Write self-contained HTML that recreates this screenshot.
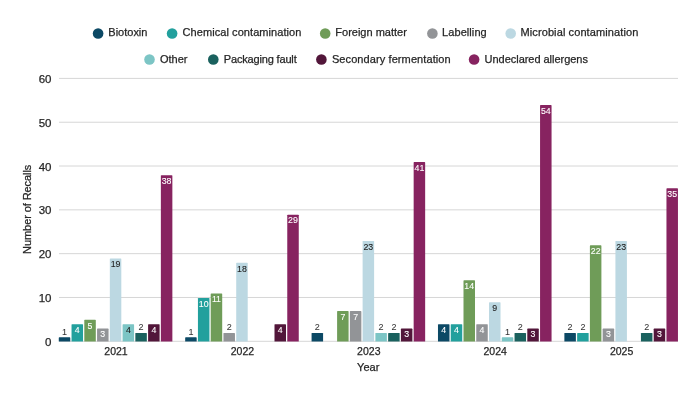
<!DOCTYPE html><html><head><meta charset="utf-8"><style>html,body{margin:0;padding:0;background:#fff;width:700px;height:393px;overflow:hidden}svg{display:block}text{font-family:"Liberation Sans", sans-serif}.t{stroke:#262626;stroke-width:0.25px}</style></head><body>
<div style="will-change:transform;background:#fff;width:700px;height:393px"><svg width="700" height="393" viewBox="0 0 700 393">
<rect width="700" height="393" fill="#fff"/>
<line x1="59" x2="678" y1="341.3" y2="341.3" stroke="#d6d6d6" stroke-width="1"/>
<text class="t" x="51.5" y="345.90" font-size="11.5" fill="#262626" text-anchor="end">0</text>
<line x1="59" x2="678" y1="297.48" y2="297.48" stroke="#d6d6d6" stroke-width="1"/>
<text class="t" x="51.5" y="302.08" font-size="11.5" fill="#262626" text-anchor="end">10</text>
<line x1="59" x2="678" y1="253.67" y2="253.67" stroke="#d6d6d6" stroke-width="1"/>
<text class="t" x="51.5" y="258.27" font-size="11.5" fill="#262626" text-anchor="end">20</text>
<line x1="59" x2="678" y1="209.85" y2="209.85" stroke="#d6d6d6" stroke-width="1"/>
<text class="t" x="51.5" y="214.45" font-size="11.5" fill="#262626" text-anchor="end">30</text>
<line x1="59" x2="678" y1="166.03" y2="166.03" stroke="#d6d6d6" stroke-width="1"/>
<text class="t" x="51.5" y="170.63" font-size="11.5" fill="#262626" text-anchor="end">40</text>
<line x1="59" x2="678" y1="122.22" y2="122.22" stroke="#d6d6d6" stroke-width="1"/>
<text class="t" x="51.5" y="126.82" font-size="11.5" fill="#262626" text-anchor="end">50</text>
<line x1="59" x2="678" y1="78.4" y2="78.4" stroke="#d6d6d6" stroke-width="1"/>
<text class="t" x="51.5" y="83.00" font-size="11.5" fill="#262626" text-anchor="end">60</text>
<text class="t" transform="translate(31,209.3) rotate(-90)" font-size="11" fill="#262626" text-anchor="middle" textLength="89.2" lengthAdjust="spacing">Number of Recalls</text>
<text class="t" x="368.2" y="371" font-size="11" fill="#262626" text-anchor="middle">Year</text>
<text class="t" x="116.00" y="354.8" font-size="10.5" fill="#262626" text-anchor="middle">2021</text>
<path d="M58.78,341.5 L58.78,337.92 Q58.78,337.32 59.38,337.32 L69.68,337.32 Q70.28,337.32 70.28,337.92 L70.28,341.5 Z" fill="#0c4965"/>
<text x="64.53" y="334.72" font-size="9" fill="#333" stroke="#333" stroke-width="0.05" text-anchor="middle">1</text>
<path d="M71.54,341.5 L71.54,324.77 Q71.54,324.17 72.14,324.17 L82.44,324.17 Q83.04,324.17 83.04,324.77 L83.04,341.5 Z" fill="#22a09d"/>
<text x="77.29" y="332.97" font-size="8.8" fill="#fff" stroke="#fff" stroke-width="0.1" text-anchor="middle">4</text>
<path d="M84.30,341.5 L84.30,320.39 Q84.30,319.79 84.90,319.79 L95.20,319.79 Q95.80,319.79 95.80,320.39 L95.80,341.5 Z" fill="#6f9c58"/>
<text x="90.05" y="328.59" font-size="8.8" fill="#fff" stroke="#fff" stroke-width="0.1" text-anchor="middle">5</text>
<path d="M97.06,341.5 L97.06,329.16 Q97.06,328.56 97.66,328.56 L107.96,328.56 Q108.56,328.56 108.56,329.16 L108.56,341.5 Z" fill="#929497"/>
<text x="102.81" y="337.36" font-size="8.8" fill="#fff" stroke="#fff" stroke-width="0.1" text-anchor="middle">3</text>
<path d="M109.82,341.5 L109.82,259.05 Q109.82,258.45 110.42,258.45 L120.72,258.45 Q121.32,258.45 121.32,259.05 L121.32,341.5 Z" fill="#bcd8e2"/>
<text x="115.57" y="267.25" font-size="8.8" fill="#222" stroke="#222" stroke-width="0.1" text-anchor="middle">19</text>
<path d="M122.58,341.5 L122.58,324.77 Q122.58,324.17 123.18,324.17 L133.48,324.17 Q134.08,324.17 134.08,324.77 L134.08,341.5 Z" fill="#7cc5c5"/>
<text x="128.33" y="332.97" font-size="8.8" fill="#222" stroke="#222" stroke-width="0.1" text-anchor="middle">4</text>
<path d="M135.34,341.5 L135.34,333.54 Q135.34,332.94 135.94,332.94 L146.24,332.94 Q146.84,332.94 146.84,333.54 L146.84,341.5 Z" fill="#1a615e"/>
<text x="141.09" y="330.34" font-size="9" fill="#333" stroke="#333" stroke-width="0.05" text-anchor="middle">2</text>
<path d="M148.10,341.5 L148.10,324.77 Q148.10,324.17 148.70,324.17 L159.00,324.17 Q159.60,324.17 159.60,324.77 L159.60,341.5 Z" fill="#52163a"/>
<text x="153.85" y="332.97" font-size="8.8" fill="#fff" stroke="#fff" stroke-width="0.1" text-anchor="middle">4</text>
<path d="M160.86,341.5 L160.86,175.80 Q160.86,175.20 161.46,175.20 L171.76,175.20 Q172.36,175.20 172.36,175.80 L172.36,341.5 Z" fill="#872360"/>
<text x="166.61" y="184.00" font-size="8.8" fill="#fff" stroke="#fff" stroke-width="0.1" text-anchor="middle">38</text>
<text class="t" x="242.40" y="354.8" font-size="10.5" fill="#262626" text-anchor="middle">2022</text>
<path d="M185.18,341.5 L185.18,337.92 Q185.18,337.32 185.78,337.32 L196.08,337.32 Q196.68,337.32 196.68,337.92 L196.68,341.5 Z" fill="#0c4965"/>
<text x="190.93" y="334.72" font-size="9" fill="#333" stroke="#333" stroke-width="0.05" text-anchor="middle">1</text>
<path d="M197.94,341.5 L197.94,298.48 Q197.94,297.88 198.54,297.88 L208.84,297.88 Q209.44,297.88 209.44,298.48 L209.44,341.5 Z" fill="#22a09d"/>
<text x="203.69" y="306.68" font-size="8.8" fill="#fff" stroke="#fff" stroke-width="0.1" text-anchor="middle">10</text>
<path d="M210.70,341.5 L210.70,294.10 Q210.70,293.50 211.30,293.50 L221.60,293.50 Q222.20,293.50 222.20,294.10 L222.20,341.5 Z" fill="#6f9c58"/>
<text x="216.45" y="302.30" font-size="8.8" fill="#fff" stroke="#fff" stroke-width="0.1" text-anchor="middle">11</text>
<path d="M223.46,341.5 L223.46,333.54 Q223.46,332.94 224.06,332.94 L234.36,332.94 Q234.96,332.94 234.96,333.54 L234.96,341.5 Z" fill="#929497"/>
<text x="229.21" y="330.34" font-size="9" fill="#333" stroke="#333" stroke-width="0.05" text-anchor="middle">2</text>
<path d="M236.22,341.5 L236.22,263.43 Q236.22,262.83 236.82,262.83 L247.12,262.83 Q247.72,262.83 247.72,263.43 L247.72,341.5 Z" fill="#bcd8e2"/>
<text x="241.97" y="271.63" font-size="8.8" fill="#222" stroke="#222" stroke-width="0.1" text-anchor="middle">18</text>
<path d="M274.50,341.5 L274.50,324.77 Q274.50,324.17 275.10,324.17 L285.40,324.17 Q286.00,324.17 286.00,324.77 L286.00,341.5 Z" fill="#52163a"/>
<text x="280.25" y="332.97" font-size="8.8" fill="#fff" stroke="#fff" stroke-width="0.1" text-anchor="middle">4</text>
<path d="M287.26,341.5 L287.26,215.23 Q287.26,214.63 287.86,214.63 L298.16,214.63 Q298.76,214.63 298.76,215.23 L298.76,341.5 Z" fill="#872360"/>
<text x="293.01" y="223.43" font-size="8.8" fill="#fff" stroke="#fff" stroke-width="0.1" text-anchor="middle">29</text>
<text class="t" x="368.80" y="354.8" font-size="10.5" fill="#262626" text-anchor="middle">2023</text>
<path d="M311.58,341.5 L311.58,333.54 Q311.58,332.94 312.18,332.94 L322.48,332.94 Q323.08,332.94 323.08,333.54 L323.08,341.5 Z" fill="#0c4965"/>
<text x="317.33" y="330.34" font-size="9" fill="#333" stroke="#333" stroke-width="0.05" text-anchor="middle">2</text>
<path d="M337.10,341.5 L337.10,311.63 Q337.10,311.03 337.70,311.03 L348.00,311.03 Q348.60,311.03 348.60,311.63 L348.60,341.5 Z" fill="#6f9c58"/>
<text x="342.85" y="319.83" font-size="8.8" fill="#fff" stroke="#fff" stroke-width="0.1" text-anchor="middle">7</text>
<path d="M349.86,341.5 L349.86,311.63 Q349.86,311.03 350.46,311.03 L360.76,311.03 Q361.36,311.03 361.36,311.63 L361.36,341.5 Z" fill="#929497"/>
<text x="355.61" y="319.83" font-size="8.8" fill="#fff" stroke="#fff" stroke-width="0.1" text-anchor="middle">7</text>
<path d="M362.62,341.5 L362.62,241.52 Q362.62,240.92 363.22,240.92 L373.52,240.92 Q374.12,240.92 374.12,241.52 L374.12,341.5 Z" fill="#bcd8e2"/>
<text x="368.37" y="249.72" font-size="8.8" fill="#222" stroke="#222" stroke-width="0.1" text-anchor="middle">23</text>
<path d="M375.38,341.5 L375.38,333.54 Q375.38,332.94 375.98,332.94 L386.28,332.94 Q386.88,332.94 386.88,333.54 L386.88,341.5 Z" fill="#7cc5c5"/>
<text x="381.13" y="330.34" font-size="9" fill="#333" stroke="#333" stroke-width="0.05" text-anchor="middle">2</text>
<path d="M388.14,341.5 L388.14,333.54 Q388.14,332.94 388.74,332.94 L399.04,332.94 Q399.64,332.94 399.64,333.54 L399.64,341.5 Z" fill="#1a615e"/>
<text x="393.89" y="330.34" font-size="9" fill="#333" stroke="#333" stroke-width="0.05" text-anchor="middle">2</text>
<path d="M400.90,341.5 L400.90,329.16 Q400.90,328.56 401.50,328.56 L411.80,328.56 Q412.40,328.56 412.40,329.16 L412.40,341.5 Z" fill="#52163a"/>
<text x="406.65" y="337.36" font-size="8.8" fill="#fff" stroke="#fff" stroke-width="0.1" text-anchor="middle">3</text>
<path d="M413.66,341.5 L413.66,162.65 Q413.66,162.05 414.26,162.05 L424.56,162.05 Q425.16,162.05 425.16,162.65 L425.16,341.5 Z" fill="#872360"/>
<text x="419.41" y="170.85" font-size="8.8" fill="#fff" stroke="#fff" stroke-width="0.1" text-anchor="middle">41</text>
<text class="t" x="495.20" y="354.8" font-size="10.5" fill="#262626" text-anchor="middle">2024</text>
<path d="M437.98,341.5 L437.98,324.77 Q437.98,324.17 438.58,324.17 L448.88,324.17 Q449.48,324.17 449.48,324.77 L449.48,341.5 Z" fill="#0c4965"/>
<text x="443.73" y="332.97" font-size="8.8" fill="#fff" stroke="#fff" stroke-width="0.1" text-anchor="middle">4</text>
<path d="M450.74,341.5 L450.74,324.77 Q450.74,324.17 451.34,324.17 L461.64,324.17 Q462.24,324.17 462.24,324.77 L462.24,341.5 Z" fill="#22a09d"/>
<text x="456.49" y="332.97" font-size="8.8" fill="#fff" stroke="#fff" stroke-width="0.1" text-anchor="middle">4</text>
<path d="M463.50,341.5 L463.50,280.96 Q463.50,280.36 464.10,280.36 L474.40,280.36 Q475.00,280.36 475.00,280.96 L475.00,341.5 Z" fill="#6f9c58"/>
<text x="469.25" y="289.16" font-size="8.8" fill="#fff" stroke="#fff" stroke-width="0.1" text-anchor="middle">14</text>
<path d="M476.26,341.5 L476.26,324.77 Q476.26,324.17 476.86,324.17 L487.16,324.17 Q487.76,324.17 487.76,324.77 L487.76,341.5 Z" fill="#929497"/>
<text x="482.01" y="332.97" font-size="8.8" fill="#fff" stroke="#fff" stroke-width="0.1" text-anchor="middle">4</text>
<path d="M489.02,341.5 L489.02,302.87 Q489.02,302.26 489.62,302.26 L499.92,302.26 Q500.52,302.26 500.52,302.87 L500.52,341.5 Z" fill="#bcd8e2"/>
<text x="494.77" y="311.06" font-size="8.8" fill="#222" stroke="#222" stroke-width="0.1" text-anchor="middle">9</text>
<path d="M501.78,341.5 L501.78,337.92 Q501.78,337.32 502.38,337.32 L512.68,337.32 Q513.28,337.32 513.28,337.92 L513.28,341.5 Z" fill="#7cc5c5"/>
<text x="507.53" y="334.72" font-size="9" fill="#333" stroke="#333" stroke-width="0.05" text-anchor="middle">1</text>
<path d="M514.54,341.5 L514.54,333.54 Q514.54,332.94 515.14,332.94 L525.44,332.94 Q526.04,332.94 526.04,333.54 L526.04,341.5 Z" fill="#1a615e"/>
<text x="520.29" y="330.34" font-size="9" fill="#333" stroke="#333" stroke-width="0.05" text-anchor="middle">2</text>
<path d="M527.30,341.5 L527.30,329.16 Q527.30,328.56 527.90,328.56 L538.20,328.56 Q538.80,328.56 538.80,329.16 L538.80,341.5 Z" fill="#52163a"/>
<text x="533.05" y="337.36" font-size="8.8" fill="#fff" stroke="#fff" stroke-width="0.1" text-anchor="middle">3</text>
<path d="M540.06,341.5 L540.06,105.69 Q540.06,105.09 540.66,105.09 L550.96,105.09 Q551.56,105.09 551.56,105.69 L551.56,341.5 Z" fill="#872360"/>
<text x="545.81" y="113.89" font-size="8.8" fill="#fff" stroke="#fff" stroke-width="0.1" text-anchor="middle">54</text>
<text class="t" x="621.60" y="354.8" font-size="10.5" fill="#262626" text-anchor="middle">2025</text>
<path d="M564.38,341.5 L564.38,333.54 Q564.38,332.94 564.98,332.94 L575.28,332.94 Q575.88,332.94 575.88,333.54 L575.88,341.5 Z" fill="#0c4965"/>
<text x="570.13" y="330.34" font-size="9" fill="#333" stroke="#333" stroke-width="0.05" text-anchor="middle">2</text>
<path d="M577.14,341.5 L577.14,333.54 Q577.14,332.94 577.74,332.94 L588.04,332.94 Q588.64,332.94 588.64,333.54 L588.64,341.5 Z" fill="#22a09d"/>
<text x="582.89" y="330.34" font-size="9" fill="#333" stroke="#333" stroke-width="0.05" text-anchor="middle">2</text>
<path d="M589.90,341.5 L589.90,245.90 Q589.90,245.30 590.50,245.30 L600.80,245.30 Q601.40,245.30 601.40,245.90 L601.40,341.5 Z" fill="#6f9c58"/>
<text x="595.65" y="254.10" font-size="8.8" fill="#fff" stroke="#fff" stroke-width="0.1" text-anchor="middle">22</text>
<path d="M602.66,341.5 L602.66,329.16 Q602.66,328.56 603.26,328.56 L613.56,328.56 Q614.16,328.56 614.16,329.16 L614.16,341.5 Z" fill="#929497"/>
<text x="608.41" y="337.36" font-size="8.8" fill="#fff" stroke="#fff" stroke-width="0.1" text-anchor="middle">3</text>
<path d="M615.42,341.5 L615.42,241.52 Q615.42,240.92 616.02,240.92 L626.32,240.92 Q626.92,240.92 626.92,241.52 L626.92,341.5 Z" fill="#bcd8e2"/>
<text x="621.17" y="249.72" font-size="8.8" fill="#222" stroke="#222" stroke-width="0.1" text-anchor="middle">23</text>
<path d="M640.94,341.5 L640.94,333.54 Q640.94,332.94 641.54,332.94 L651.84,332.94 Q652.44,332.94 652.44,333.54 L652.44,341.5 Z" fill="#1a615e"/>
<text x="646.69" y="330.34" font-size="9" fill="#333" stroke="#333" stroke-width="0.05" text-anchor="middle">2</text>
<path d="M653.70,341.5 L653.70,329.16 Q653.70,328.56 654.30,328.56 L664.60,328.56 Q665.20,328.56 665.20,329.16 L665.20,341.5 Z" fill="#52163a"/>
<text x="659.45" y="337.36" font-size="8.8" fill="#fff" stroke="#fff" stroke-width="0.1" text-anchor="middle">3</text>
<path d="M666.46,341.5 L666.46,188.94 Q666.46,188.34 667.06,188.34 L677.36,188.34 Q677.96,188.34 677.96,188.94 L677.96,341.5 Z" fill="#872360"/>
<text x="672.21" y="197.14" font-size="8.8" fill="#fff" stroke="#fff" stroke-width="0.1" text-anchor="middle">35</text>
<circle cx="98.1" cy="33.5" r="5.3" fill="#0c4965"/>
<text class="t" x="108.30" y="36.3" font-size="11" fill="#262626" textLength="39.14" lengthAdjust="spacing">Biotoxin</text>
<circle cx="172.1" cy="33.5" r="5.3" fill="#22a09d"/>
<text class="t" x="182.60" y="36.3" font-size="11" fill="#262626" textLength="118.8" lengthAdjust="spacing">Chemical contamination</text>
<circle cx="325.2" cy="33.5" r="5.3" fill="#6f9c58"/>
<text class="t" x="335.30" y="36.3" font-size="11" fill="#262626" textLength="71.53" lengthAdjust="spacing">Foreign matter</text>
<circle cx="432.4" cy="33.5" r="5.3" fill="#929497"/>
<text class="t" x="442.10" y="36.3" font-size="11" fill="#262626" textLength="44.6" lengthAdjust="spacing">Labelling</text>
<circle cx="510.7" cy="33.5" r="5.3" fill="#bcd8e2"/>
<text class="t" x="520.50" y="36.3" font-size="11" fill="#262626" textLength="117.8" lengthAdjust="spacing">Microbial contamination</text>
<circle cx="149.5" cy="59.5" r="5.3" fill="#7cc5c5"/>
<text class="t" x="160.00" y="62.8" font-size="11" fill="#262626" textLength="27.5" lengthAdjust="spacing">Other</text>
<circle cx="213.3" cy="59.5" r="5.3" fill="#1a615e"/>
<text class="t" x="223.80" y="62.8" font-size="11" fill="#262626" textLength="72.9" lengthAdjust="spacing">Packaging fault</text>
<circle cx="321.4" cy="59.5" r="5.3" fill="#52163a"/>
<text class="t" x="331.90" y="62.8" font-size="11" fill="#262626" textLength="118.8" lengthAdjust="spacing">Secondary fermentation</text>
<circle cx="474.1" cy="59.5" r="5.3" fill="#872360"/>
<text class="t" x="484.60" y="62.8" font-size="11" fill="#262626" textLength="103.3" lengthAdjust="spacing">Undeclared allergens</text>
</svg></div></body></html>
